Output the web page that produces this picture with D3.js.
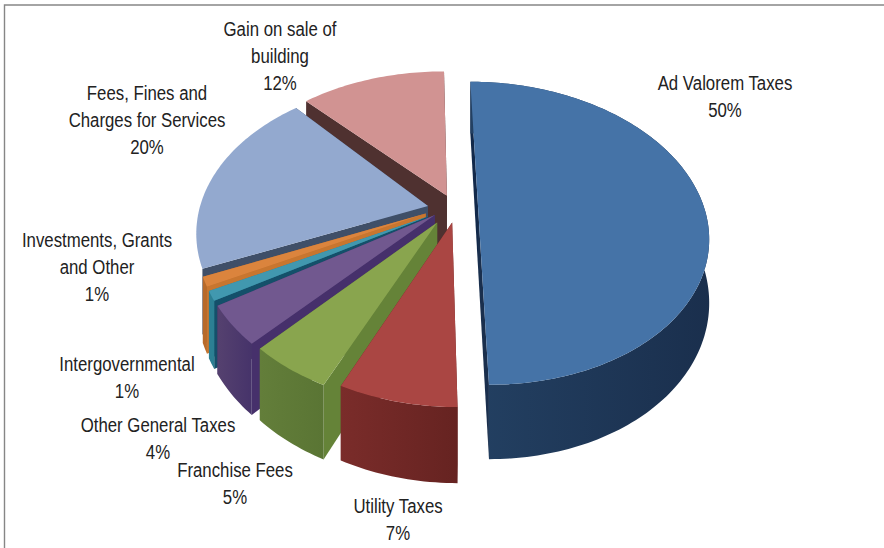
<!DOCTYPE html>
<html>
<head>
<meta charset="utf-8">
<script src="https://cdn.jsdelivr.net/npm/d3@7"></script>
<style>
  html, body { margin: 0; padding: 0; background: #fff; }
  text { font-family: "Liberation Sans", Arial, sans-serif; fill: #222; }
</style>
</head>
<body>
<svg id="chart" width="884" height="548"></svg>
<script>
// Revenue shares, clockwise from twelve o'clock
const categories = ["Ad Valorem Taxes", "Utility Taxes", "Franchise Fees", "Other General Taxes",
                    "Intergovernmental", "Investments, Grants and Other", "Fees, Fines and Charges for Services",
                    "Gain on sale of building"];
const shares = [50, 7, 5, 4, 1, 1, 20, 12];
const labelLines = [
  ["Ad Valorem Taxes"], ["Utility Taxes"], ["Franchise Fees"], ["Other General Taxes"],
  ["Intergovernmental"], ["Investments, Grants", "and Other"],
  ["Fees, Fines and", "Charges for Services"], ["Gain on sale of", "building"]
];
const topColors = ["#4573a7", "#aa4643", "#89a54e", "#71588f", "#4198af", "#db843d", "#93a9cf", "#d19392"];
const wallLeft = ["#234062", "#7a2c2a", "#637e3a", "#55416f", "#2c7f93", "#b86a2a", "#3f4f68", "#4f3130"];
const wallRight = ["#1a2f4d", "#662321", "#5a7534", "#46336a", "#2c7f93", "#b86a2a", "#3f4f68", "#4f3130"];
const cutColors = ["#12294a", "#662321", "#658338", "#46306b", "#14506a", "#c8762f", "#3f4f68", "#4f3130"];

// Where each slice sits once pulled out of the pie: flat-plane offset, radius, small turn
const explode = [
  { u: 0.2216, v: 0,      r: 1,     turn: 0 },
  { u: 0.105,  v: -0.11,  r: 0.99,  turn: 0 },
  { u: 0.04,   v: -0.11,  r: 0.985, turn: 0 },
  { u: 0.03,   v: -0.06,  r: 1.02,  turn: 0 },
  { u: 0,      v: -0.07,  r: 0.99,  turn: 0.025 },
  { u: -0.01,  v: -0.05,  r: 0.99,  turn: 0.03 },
  { u: 0,      v: 0,      r: 1.01,  turn: 0.035 },
  { u: 0.085,  v: 0.07,   r: 1.03,  turn: 0 }
];
// The two rear slices show no outer wall
const showsRim = [true, true, true, true, true, true, false, false];
// Label anchors: centre x and first baseline, one per category
const labelAnchors = [
  [725, 90], [398, 513], [235, 477], [158, 432], [127, 371], [97, 247], [147, 100], [280, 36]
];
const lineHeight = 27;
const labelScaleX = 0.8;

const svg = d3.select("#chart");
const defs = svg.append("defs");

// Frame of the chart area
svg.append("path")
  .attr("d", "M4.5,548V5H884")
  .attr("fill", "none").attr("stroke", "#868686").attr("stroke-width", 1.4);

// Perspective projection of the tilted pie
const cx = 428, cy = 206, depth = 61, persp = 0.18;
const xProj = d3.scaleLinear().domain([-1, 1]).range([-225.6, 225.6]);
const yProj = d3.scaleLinear().domain([-1, 1]).range([146.6, -146.6]);
const project = (u, v, drop = 0) => {
  const p = 1 / (1 + persp * v);
  return [cx + xProj(u) * p, cy + (yProj(v) + drop) * p];
};

const arcs = d3.pie().sort(null).value(d => d)(shares);

function sliceGeometry(i) {
  const a = arcs[i], e = explode[i];
  const steps = Math.max(4, Math.ceil((a.endAngle - a.startAngle) / 0.02));
  const rim = d3.range(steps + 1).map(s => {
    const t = a.startAngle + e.turn + (a.endAngle - a.startAngle) * s / steps;
    return [e.u + e.r * Math.sin(t), e.v + e.r * Math.cos(t)];
  });
  return { apex: [e.u, e.v], rim };
}

const line = d3.line();
const closed = pts => line(pts) + "Z";
const upper = pt => project(pt[0], pt[1]);
const lower = pt => project(pt[0], pt[1], depth);

// Shading across each outer wall
categories.forEach((c, i) => {
  const grad = defs.append("linearGradient").attr("id", "wall" + i);
  grad.append("stop").attr("offset", "0%").attr("stop-color", wallLeft[i]);
  grad.append("stop").attr("offset", "100%").attr("stop-color", wallRight[i]);
});

// Painted from the back of the pie to the front, the large pulled-out slice last
const order = [7, 6, 5, 4, 3, 2, 1, 0];
const slices = svg.append("g").selectAll("g").data(order).join("g");

slices.each(function (i) {
  const g = d3.select(this), s = sliceGeometry(i);
  const first = s.rim[0], last = s.rim[s.rim.length - 1];
  // cut face on the closing edge
  g.append("path").attr("fill", wallRight[i])
    .attr("d", closed([upper(s.apex), upper(last), lower(last), lower(s.apex)]));
  // cut face on the opening edge
  g.append("path").attr("fill", cutColors[i])
    .attr("d", closed([upper(s.apex), upper(first), lower(first), lower(s.apex)]));
  // outer wall, left to right across the picture
  if (showsRim[i]) {
    g.append("path").attr("fill", `url(#wall${i})`)
      .attr("d", closed(s.rim.map(upper).concat(s.rim.slice().reverse().map(lower))));
  }
  // top face
  g.append("path").attr("fill", topColors[i])
    .attr("d", closed([upper(s.apex)].concat(s.rim.map(upper))));
});

// Data labels: category lines, then the percentage
const labels = svg.append("g").selectAll("text").data(categories).join("text")
  .attr("font-size", 21)
  .attr("text-anchor", "middle")
  .attr("transform", (d, i) => `translate(${labelAnchors[i][0]},${labelAnchors[i][1]}) scale(${labelScaleX},1)`);
labels.each(function (d, i) {
  const t = d3.select(this);
  labelLines[i].concat([shares[i] + "%"]).forEach((txt, k) => {
    t.append("tspan").attr("x", 0).attr("y", k * lineHeight).text(txt);
  });
});
</script>
</body>
</html>
